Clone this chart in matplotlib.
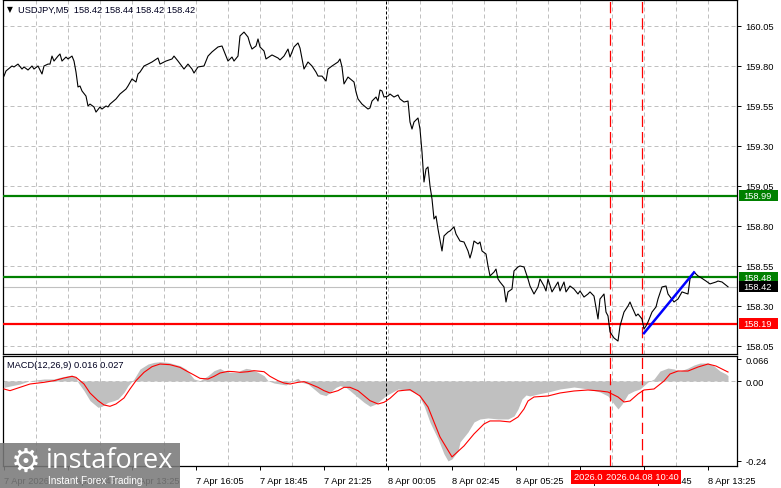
import matplotlib
matplotlib.use("Agg")
import matplotlib.pyplot as plt
from matplotlib.patches import Rectangle
from matplotlib.transforms import blended_transform_factory

plt.rcParams['font.family'] = ['Liberation Sans', 'DejaVu Sans']

# USDJPY M5 closes (bar number from 7 Apr 08:05)
price_bar = [0, 1, 4, 5, 7, 9, 10, 12, 14, 15,
             17, 19, 20, 22, 23, 24, 25, 27, 28, 29,
             31, 32, 34, 35, 36, 37, 38, 39, 41, 42,
             43, 45, 46, 48, 49, 51, 52, 53, 56, 58,
             61, 62, 64, 66, 67, 68, 70, 72, 74, 77,
             78, 81, 84, 85, 87, 90, 92, 94, 95, 97,
             100, 102, 104, 107, 109, 110, 111, 112, 114, 115,
             117, 118, 120, 122, 123, 124, 126, 127, 128, 130,
             131, 134, 137, 138, 140, 142, 143, 145, 147, 148,
             150, 152, 154, 156, 157, 159, 161, 162, 164, 167,
             168, 169, 170, 172, 175, 176, 177, 179, 182, 183,
             184, 186, 187, 188, 189, 190, 192, 193, 195, 197,
             198, 200, 202, 203, 204, 205, 207, 208, 209, 210,
             211, 212, 213, 214, 215, 216, 217, 219, 220, 222,
             223, 225, 226, 228, 230, 232, 233, 234, 235, 237,
             238, 239, 241, 242, 243, 245, 246, 247, 248, 250,
             251, 252, 254, 255, 257, 258, 260, 262, 263, 265,
             267, 268, 270, 271, 272, 274, 277, 278, 280, 281,
             283, 285, 287, 288, 290, 292, 293, 295, 297, 298,
             300, 301, 302, 303, 305, 307, 308, 310, 312, 313,
             314, 316, 317, 319, 320, 321, 322, 324, 326, 327,
             329, 331, 332, 335, 337, 339, 342, 343, 345, 347,
             348, 351, 353, 356, 357, 359, 362]
close = [159.737, 159.769, 159.800, 159.794, 159.812, 159.781, 159.794, 159.775, 159.800, 159.781,
         159.800, 159.750, 159.800, 159.812, 159.812, 159.862, 159.831, 159.862, 159.875, 159.831,
         159.856, 159.844, 159.862, 159.831, 159.762, 159.669, 159.675, 159.644, 159.612, 159.550,
         159.562, 159.544, 159.512, 159.544, 159.531, 159.550, 159.544, 159.562, 159.594, 159.625,
         159.656, 159.675, 159.719, 159.700, 159.750, 159.762, 159.800, 159.812, 159.825, 159.850,
         159.812, 159.831, 159.844, 159.862, 159.831, 159.781, 159.812, 159.781, 159.756, 159.794,
         159.800, 159.862, 159.888, 159.919, 159.925, 159.894, 159.862, 159.831, 159.856, 159.831,
         159.862, 159.988, 160.012, 159.981, 159.938, 159.906, 159.925, 159.969, 159.919, 159.894,
         159.844, 159.869, 159.850, 159.838, 159.862, 159.906, 159.856, 159.919, 159.944, 159.912,
         159.781, 159.825, 159.800, 159.762, 159.737, 159.737, 159.706, 159.781, 159.800, 159.825,
         159.844, 159.794, 159.688, 159.731, 159.700, 159.638, 159.594, 159.562, 159.531, 159.538,
         159.581, 159.606, 159.581, 159.650, 159.644, 159.606, 159.612, 159.625, 159.606, 159.619,
         159.594, 159.575, 159.581, 159.450, 159.406, 159.450, 159.475, 159.406, 159.262, 159.075,
         159.156, 159.169, 159.050, 158.969, 158.844, 158.862, 158.781, 158.644, 158.738, 158.762,
         158.769, 158.794, 158.750, 158.706, 158.700, 158.644, 158.600, 158.644, 158.706, 158.688,
         158.700, 158.644, 158.625, 158.550, 158.488, 158.512, 158.531, 158.469, 158.450, 158.419,
         158.325, 158.388, 158.406, 158.519, 158.544, 158.550, 158.544, 158.469, 158.425, 158.375,
         158.419, 158.469, 158.425, 158.394, 158.469, 158.388, 158.450, 158.394, 158.450, 158.388,
         158.425, 158.406, 158.375, 158.394, 158.356, 158.375, 158.388, 158.362, 158.219, 158.344,
         158.375, 158.262, 158.238, 158.138, 158.100, 158.081, 158.175, 158.262, 158.300, 158.325,
         158.294, 158.238, 158.250, 158.219, 158.156, 158.175, 158.200, 158.262, 158.294, 158.344,
         158.419, 158.425, 158.375, 158.325, 158.344, 158.388, 158.375, 158.469, 158.512, 158.488,
         158.481, 158.456, 158.438, 158.450, 158.456, 158.450, 158.420]

# MACD(12,26,9): main (grey histogram) and signal (red line)
hist_bar = [0, 8, 13, 20, 25, 28, 32, 34, 36, 37, 40, 43, 47, 49, 52, 55, 57, 60, 62, 65,
            68, 72, 75, 78, 82, 85, 88, 91, 93, 95, 98, 102, 105, 108, 110, 113, 117, 118, 121, 123,
            127, 130, 132, 135, 138, 141, 143, 146, 147, 149, 152, 155, 158, 161, 163, 166, 168, 171, 173, 177,
            180, 183, 186, 188, 191, 194, 197, 203, 207, 210, 213, 217, 220, 222, 224, 227, 228, 232, 235, 238,
            242, 247, 252, 255, 257, 259, 261, 263, 267, 272, 278, 285, 292, 298, 302, 305, 307, 309, 312, 315,
            318, 322, 325, 328, 332, 335, 338, 342, 345, 348, 352, 355, 358, 361, 362]
hist_val = [-0.019, -0.009, 0.001, 0.006, 0.006, 0.011, 0.016, 0.018, 0.011, -0.004,
            -0.029, -0.059, -0.079, -0.076, -0.064, -0.059, -0.054, -0.034, -0.014, 0.006,
            0.036, 0.051, 0.056, 0.058, 0.056, 0.051, 0.046, 0.036, 0.021, 0.006,
            0.001, 0.016, 0.031, 0.038, 0.031, 0.026, 0.026, 0.031, 0.038, 0.036,
            0.026, 0.016, 0.001, -0.006, -0.009, -0.012, -0.004, 0.006, 0.008, -0.004,
            -0.009, -0.024, -0.039, -0.044, -0.034, -0.019, -0.014, -0.019, -0.029, -0.049,
            -0.064, -0.076, -0.069, -0.059, -0.044, -0.034, -0.024, -0.029, -0.039, -0.074,
            -0.124, -0.174, -0.219, -0.240, -0.234, -0.210, -0.183, -0.153, -0.123, -0.114,
            -0.111, -0.114, -0.114, -0.105, -0.084, -0.054, -0.042, -0.045, -0.039, -0.033,
            -0.024, -0.018, -0.024, -0.033, -0.045, -0.069, -0.084, -0.069, -0.039, -0.030,
            -0.024, -0.003, 0.006, 0.030, 0.039, 0.036, 0.030, 0.039, 0.048, 0.054,
            0.054, 0.045, 0.030, 0.021, 0.016]
signal_bar = [0, 3, 8, 13, 20, 25, 30, 34, 36, 40, 43, 47, 50, 53, 56, 60, 63, 66, 70, 74,
              78, 83, 88, 91, 95, 98, 102, 105, 108, 112, 115, 118, 122, 125, 130, 133, 137, 140, 143, 147,
              150, 153, 157, 160, 163, 167, 170, 173, 177, 180, 183, 187, 190, 193, 197, 203, 208, 212, 215, 218,
              221, 224, 230, 235, 240, 243, 248, 253, 257, 260, 262, 265, 272, 278, 285, 292, 298, 302, 307, 310,
              313, 317, 320, 325, 330, 333, 337, 342, 347, 352, 356, 359, 362]
signal_val = [-0.024, -0.029, -0.019, -0.009, -0.004, 0.001, 0.009, 0.014, 0.011, -0.009,
              -0.036, -0.059, -0.072, -0.076, -0.069, -0.051, -0.024, 0.001, 0.026, 0.043,
              0.051, 0.049, 0.041, 0.031, 0.018, 0.008, 0.006, 0.014, 0.024, 0.029,
              0.028, 0.026, 0.028, 0.031, 0.028, 0.014, 0.001, -0.006, -0.009, -0.004,
              -0.002, -0.009, -0.019, -0.029, -0.036, -0.029, -0.019, -0.019, -0.029, -0.044,
              -0.059, -0.069, -0.064, -0.052, -0.030, -0.026, -0.045, -0.078, -0.123, -0.168,
              -0.198, -0.228, -0.195, -0.159, -0.129, -0.120, -0.120, -0.123, -0.108, -0.084,
              -0.060, -0.048, -0.045, -0.036, -0.030, -0.027, -0.030, -0.033, -0.048, -0.063,
              -0.060, -0.039, -0.027, -0.024, 0.000, 0.021, 0.030, 0.030, 0.042, 0.051,
              0.045, 0.036, 0.027]

# drawn objects
levels_green = [158.99, 158.48]
level_red = 158.19
last_price = 158.42
trend_bar = [320, 345]
trend_price = [158.13, 158.51]
vline_bars = [303, 319]
vline_labels = ["2026.04.08 09:20", "2026.04.08 10:40"]
day_sep_bar = 191

price_ticks = [158.05, 158.30, 158.55, 158.80, 159.05, 159.30, 159.55, 159.80, 160.05]
grid_bars = list(range(16, 366, 16))
label_bars = list(range(0, 366, 32))
time_labels = ["7 Apr 2026", "7 Apr 10:45", "7 Apr 13:25", "7 Apr 16:05", "7 Apr 18:45",
               "7 Apr 21:25", "8 Apr 00:05", "8 Apr 02:45", "8 Apr 05:25", "8 Apr 08:05",
               "8 Apr 10:45", "8 Apr 13:25"]
macd_ticks = [-0.24, 0.0, 0.066]
macd_tick_labels = ["-0.24", "0.00", "0.066"]

W, H = 781, 489
FS = 6.7
GRID = '#c0c0c0'
fig = plt.figure(figsize=(W / 100, H / 100), dpi=100)


def px_axes(l, t, r, b):
    return fig.add_axes([l / W, 1 - b / H, (r - l) / W, (b - t) / H])


ax = px_axes(3, 1, 737, 355)
axm = px_axes(3, 357, 737, 467)

for a in (ax, axm):
    a.set_xlim(-0.5, 366.5)
    for s in a.spines.values():
        s.set_linewidth(0.9)
    a.yaxis.tick_right()
    a.tick_params(axis='y', direction='out', length=3, width=0.7, pad=3, labelsize=FS)
    a.set_xticks(grid_bars, minor=True)
    a.grid(True, which='minor', axis='x', color=GRID, lw=0.72, dashes=(4, 3))
    a.tick_params(axis='x', which='minor', length=0)
    a.axvline(day_sep_bar, color='black', lw=0.72, dashes=(3, 2), zorder=3)
    for vb in vline_bars:
        a.axvline(vb, color='#ff0000', lw=0.9, dashes=(9, 4), zorder=3)

# price panel
ax.set_ylim(158.0, 160.2125)
ax.set_yticks(price_ticks)
ax.set_yticklabels([f"{p:.2f}" for p in price_ticks])
ax.set_xticks([])
ax.grid(True, axis='y', color=GRID, lw=0.72, dashes=(4, 3))
ax.set_xticks(grid_bars, minor=True)
ax.grid(True, which='minor', axis='x', color=GRID, lw=0.72, dashes=(4, 3))

ax.axhline(last_price, color='#c0c0c0', lw=0.8, zorder=2)
for lv in levels_green:
    ax.axhline(lv, color='#008000', lw=1.6, zorder=3)
ax.axhline(level_red, color='#ff0000', lw=1.6, zorder=3)
ax.plot(price_bar, close, color='black', lw=0.8, zorder=4)
ax.plot(trend_bar, trend_price, color='#0000ff', lw=1.8, zorder=5)

# value boxes on the price scale
bt = blended_transform_factory(fig.transFigure, ax.transData)
box_h = 11 / 160
for val, col in [(levels_green[0], '#008000'), (levels_green[1], '#008000'),
                 (last_price, '#000000'), (level_red, '#ff0000')]:
    r = Rectangle((739 / W, val - box_h / 2), 39 / W, box_h, transform=bt,
                  facecolor=col, edgecolor='none', clip_on=False, zorder=20)
    fig.add_artist(r)
    fig.text(743 / W, val, f"{val:.2f}", transform=bt, color='white', fontsize=FS,
             va='center', ha='left', zorder=21)

# MACD panel
axm.set_ylim(-0.2553, 0.0751)
axm.set_yticks(macd_ticks)
axm.set_yticklabels(macd_tick_labels)
axm.axhline(0, color=GRID, lw=0.72, dashes=(4, 3), zorder=1)
axm.fill_between(hist_bar, 0, hist_val, color='#c0c0c0', lw=0, zorder=2)
axm.plot(signal_bar, signal_val, color='#ff0000', lw=0.8, zorder=4)
axm.set_xticks(label_bars)
axm.set_xticklabels(time_labels, fontsize=FS, ha='left')
axm.tick_params(axis='x', which='major', direction='out', length=3, width=0.7, pad=4)

xt = blended_transform_factory(axm.transData, axm.transAxes)
for vb, lab in zip(vline_bars, vline_labels):
    axm.text(vb, -0.1, lab, transform=xt, ha='center', va='center', fontsize=FS,
             color='white', clip_on=False, zorder=10,
             bbox=dict(boxstyle='square,pad=0.25', fc='#ff0000', ec='none'))

# headers
fig.text(7 / W, 1 - 10 / H, "\u25bc", fontsize=5.5, va='center', ha='left',
         family=['DejaVu Sans'])
fig.text(18 / W, 1 - 10 / H, "USDJPY,M5  158.42 158.44 158.42 158.42", fontsize=FS,
         va='center', ha='left', color='#000020')
fig.text(7 / W, 1 - 366 / H, "MACD(12,26,9) 0.016 0.027", fontsize=FS,
         va='center', ha='left', color='#000020')

# watermark logo
logo = Rectangle((0, 0), 180 / W, 45 / H, transform=fig.transFigure,
                 facecolor='#7a7a7a', edgecolor='none', alpha=0.88, zorder=30)
fig.add_artist(logo)
fig.text(26 / W, 1 - 462 / H, "\u2699", fontsize=24, color='white', ha='center',
         va='center', family=['DejaVu Sans'], zorder=31)
fig.text(46 / W, 1 - 461 / H, "instaforex", fontsize=19.5, color='white', ha='left',
         va='center', family=['Open Sans', 'DejaVu Sans'], zorder=31)
fig.text(48 / W, 1 - 481 / H, "Instant Forex Trading", fontsize=7.2, color='white',
         ha='left', va='center', zorder=31)

fig.savefig("out.png", dpi=100, facecolor='white')
